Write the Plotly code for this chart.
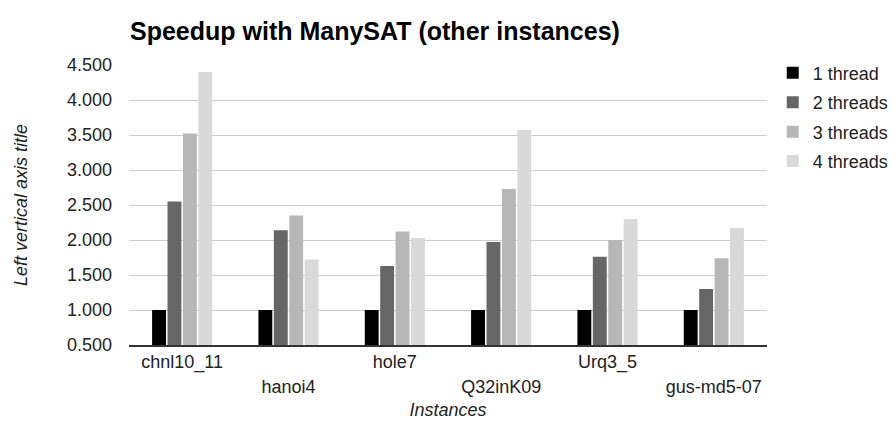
import plotly.graph_objects as go

instances = ["chnl10_11", "hanoi4", "hole7", "Q32inK09", "Urq3_5", "gus-md5-07"]
series_names = ["1 thread", "2 threads", "3 threads", "4 threads"]
speedup_1 = [1.00, 1.00, 1.00, 1.00, 1.00, 1.00]
speedup_2 = [2.55, 2.14, 1.63, 1.97, 1.76, 1.30]
speedup_3 = [3.52, 2.35, 2.12, 2.73, 2.00, 1.74]
speedup_4 = [4.40, 1.72, 2.03, 3.57, 2.30, 2.17]
colors = ["#000000", "#666666", "#b7b7b7", "#d9d9d9"]
y_ticks = [0.5, 1.0, 1.5, 2.0, 2.5, 3.0, 3.5, 4.0, 4.5]

font_family = "Liberation Sans, Arial, sans-serif"
text_color = "#222222"
fs = 18

fig = go.Figure()
for name, vals, col in zip(series_names, [speedup_1, speedup_2, speedup_3, speedup_4], colors):
    fig.add_trace(go.Bar(
        x=instances, y=vals, name=name, marker=dict(color=col, line=dict(width=0)),
        showlegend=False,
    ))

# legend entries with larger square swatches
for name, col in zip(series_names, colors):
    fig.add_trace(go.Scatter(
        x=[None], y=[None], mode="markers", name=name, legendgroup=name,
        marker=dict(symbol="square", size=18, color=col),
    ))

# placeholder trace so the second (staggered) label axis is laid out
fig.add_trace(go.Scatter(
    x=instances, y=[None] * len(instances), xaxis="x2", mode="markers",
    showlegend=False, hoverinfo="skip",
))

common_x = dict(
    type="category", categoryorder="array", categoryarray=instances,
    range=[-0.5, len(instances) - 0.5], showgrid=False, ticks="",
    tickfont=dict(size=fs, color=text_color), tickmode="array", automargin=False,
)

fig.update_layout(
    width=895, height=426,
    margin=dict(l=129, r=128, t=65, b=81, autoexpand=False),
    paper_bgcolor="white", plot_bgcolor="white",
    barmode="group", bargap=0.42, bargroupgap=0.1,
    font=dict(family=font_family, size=fs, color=text_color),
    title=dict(
        text="<b>Speedup with ManySAT (other instances)</b>",
        x=130 / 895, xanchor="left", y=1 - 31 / 426, yanchor="middle",
        font=dict(size=25, color="#000000"),
    ),
    legend=dict(
        x=1.009, xanchor="left", y=1.037, yanchor="top",
        font=dict(size=fs, color=text_color),
        tracegroupgap=3, itemsizing="constant",
    ),
    xaxis=dict(
        **common_x, tickvals=instances[0::2],
        showline=True, linecolor="#333333", linewidth=1.5,
        ticklabelstandoff=0,
        title=dict(text="<i>Instances</i>", font=dict(size=fs, color=text_color), standoff=31),
    ),
    xaxis2=dict(
        **common_x, tickvals=instances[1::2], overlaying="x", anchor="y", side="bottom",
        showline=False, ticklabelstandoff=29,
    ),
    yaxis=dict(
        range=[0.5, 4.5], tickmode="array", tickvals=y_ticks, tickformat=".3f",
        showgrid=True, gridcolor="#cccccc", gridwidth=1, zeroline=False, automargin=False,
        ticks="", tickfont=dict(size=fs, color=text_color), ticklabelstandoff=16,
        title=dict(text="<i>Left vertical axis title</i>", font=dict(size=fs, color=text_color), standoff=34),
    ),
)

fig.write_html("out.html")
